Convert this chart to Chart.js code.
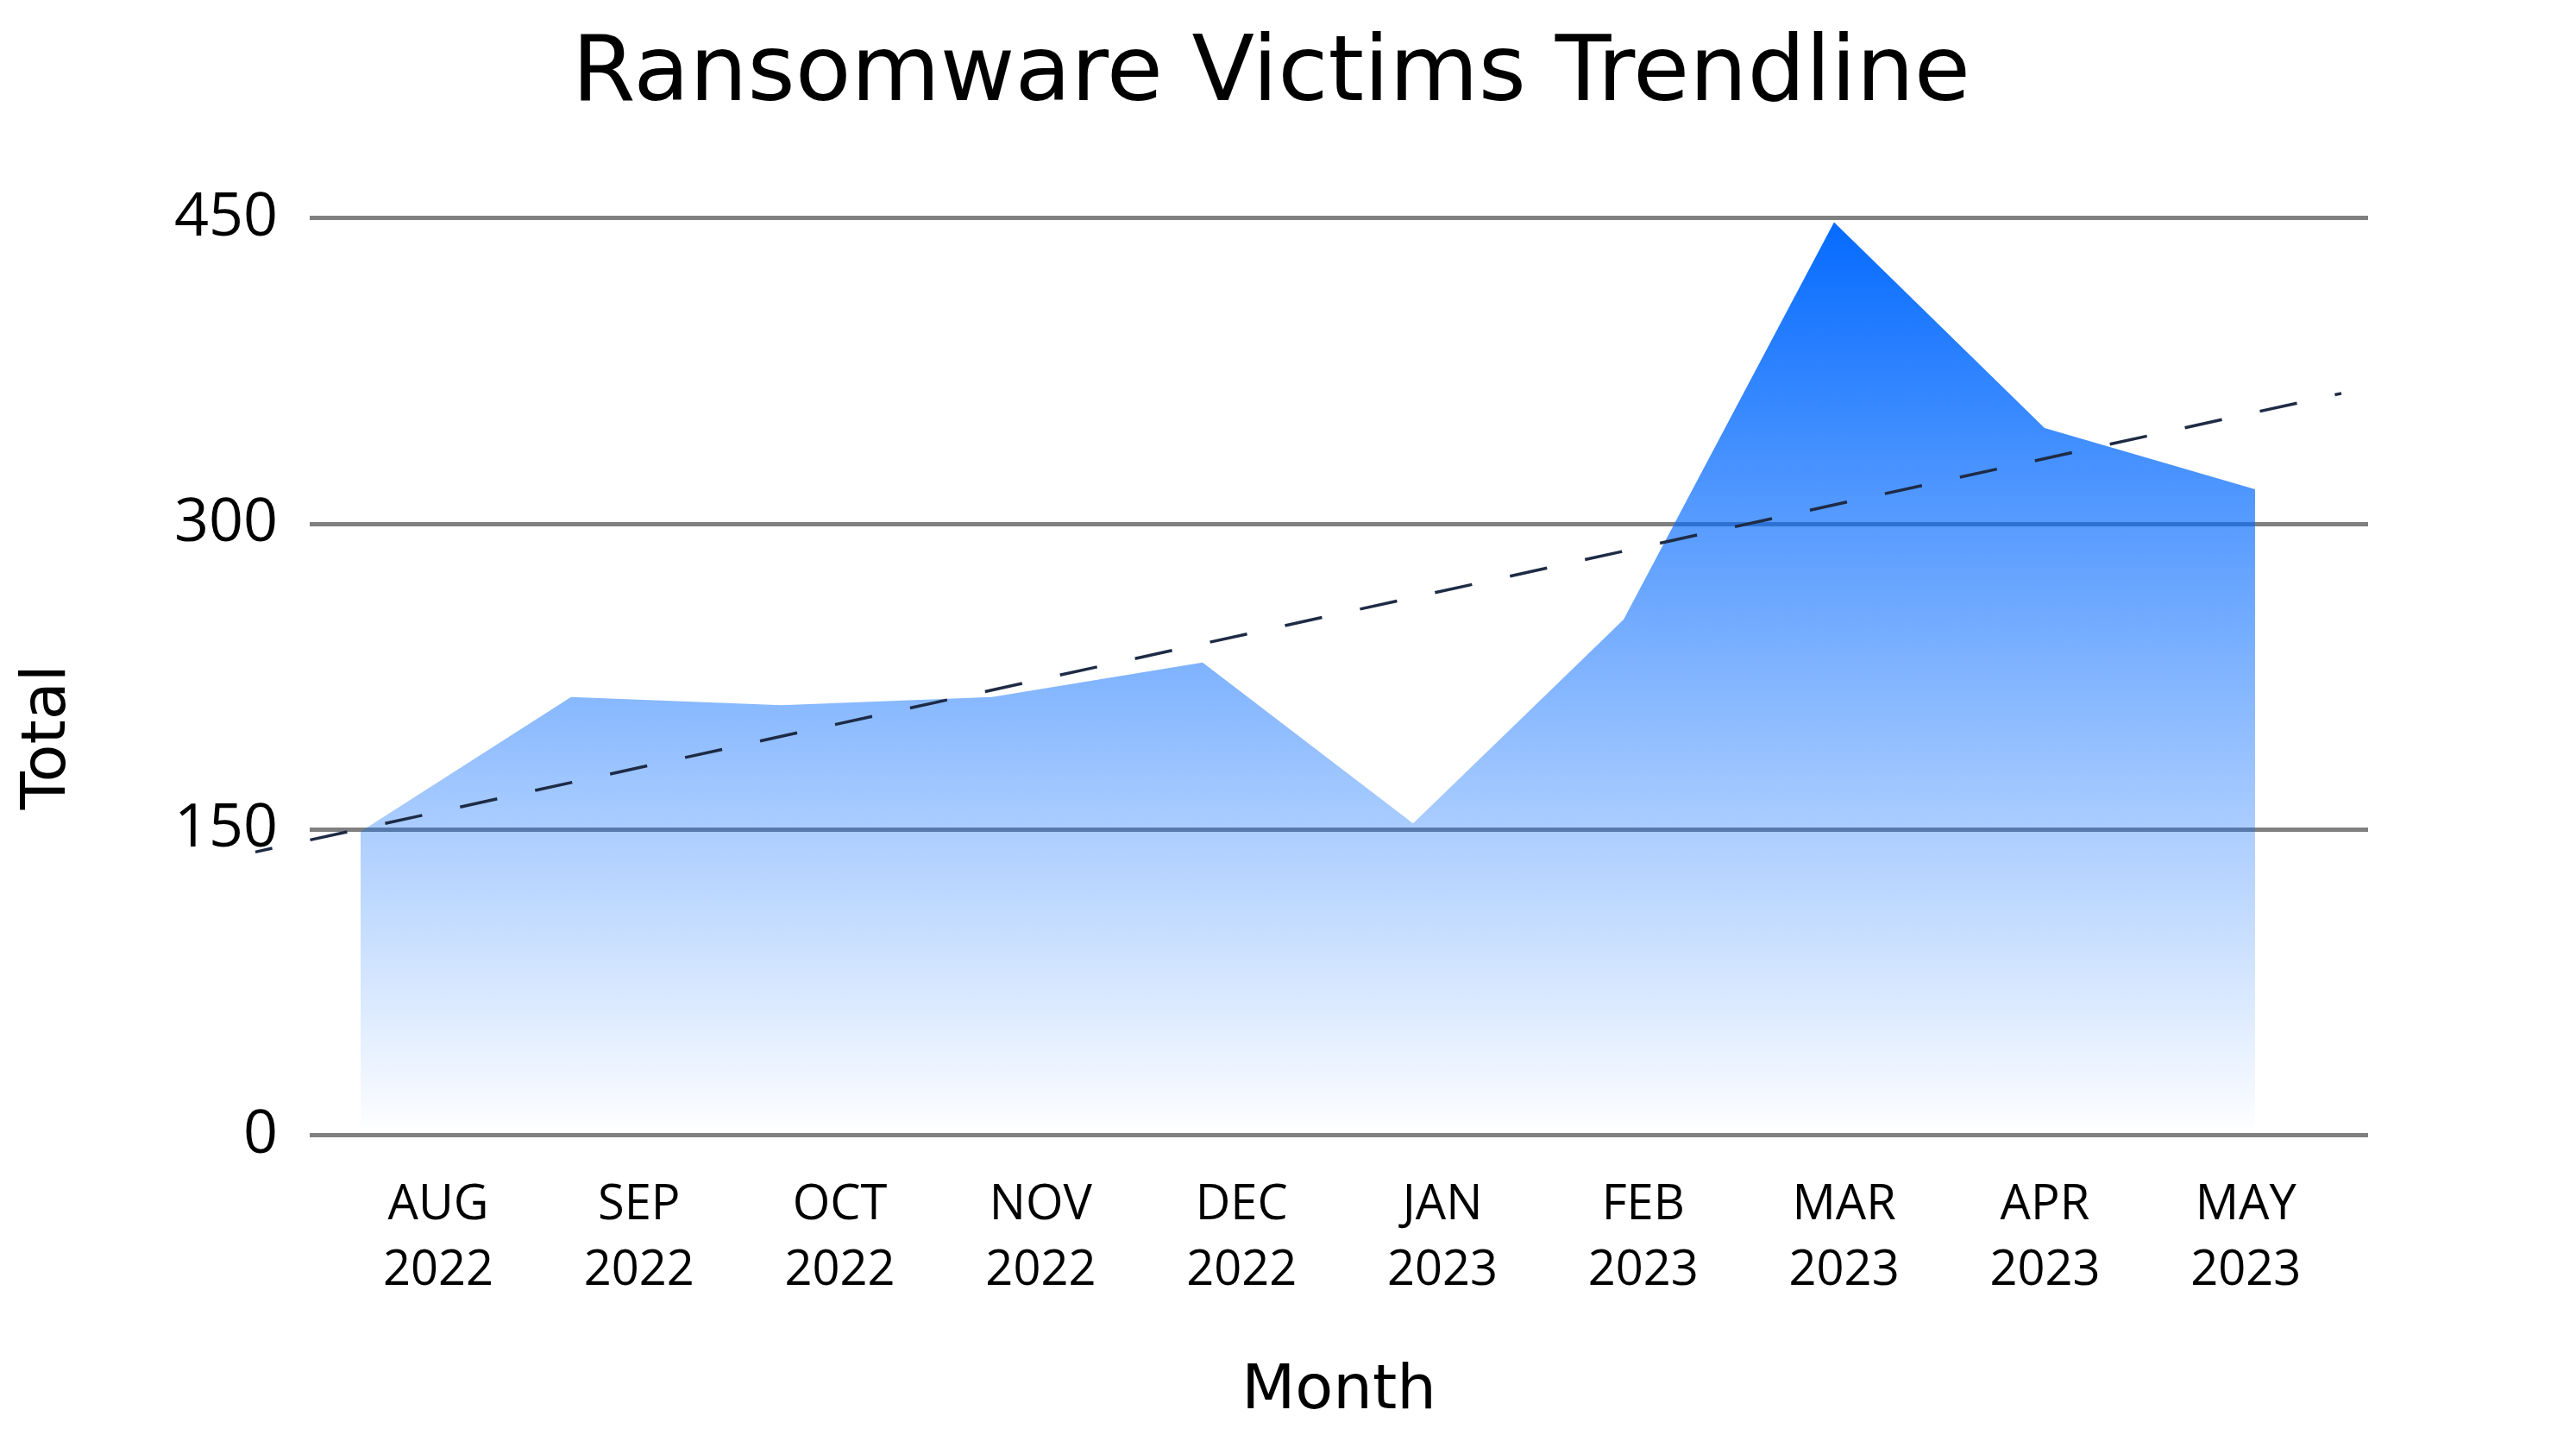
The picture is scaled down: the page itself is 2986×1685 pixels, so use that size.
<!DOCTYPE html>
<html>
<head>
<meta charset="utf-8">
<script src="https://cdn.jsdelivr.net/npm/chart.js@4.4.1/dist/chart.umd.min.js"></script>
<style>
  html, body { margin: 0; padding: 0; background: #ffffff; }
  #wrap { width: 2986px; height: 1685px; }
</style>
</head>
<body>
<div id="wrap"><canvas id="c" width="2986" height="1685"></canvas></div>
<script>
// ---- data ----
const months = ['AUG', 'SEP', 'OCT', 'NOV', 'DEC', 'JAN', 'FEB', 'MAR', 'APR', 'MAY'];
const years = ['2022', '2022', '2022', '2022', '2022', '2023', '2023', '2023', '2023', '2023'];
const victims = [149, 215, 211, 215, 232, 153, 253, 448, 347, 317];
// dashed trendline end points (x in month index units, y in victims)
const trendX = [-0.5, 9.41];
const trendY = [139, 364];
const yTickStep = 150;
const yMax = 450;
const yAxisTitle = 'Total';

const areaPoints = victims.map((v, i) => ({ x: i, y: v }));
const trendPoints = trendX.map((x, i) => ({ x: x, y: trendY[i] }));

function areaGradient(context) {
  const chart = context.chart;
  const area = chart.chartArea;
  if (!area) return 'rgba(4,106,255,0.5)';
  const g = chart.ctx.createLinearGradient(0, area.top, 0, area.bottom);
  g.addColorStop(0, 'rgba(4,106,255,1)');
  g.addColorStop(1, 'rgba(4,106,255,0)');
  return g;
}

// y-axis title, placed a little below the middle of the plot as in the reference
const yTitlePlugin = {
  id: 'yTitle',
  afterDraw(chart) {
    const { ctx, chartArea } = chart;
    const cy = (chartArea.top + chartArea.bottom) / 2 + 70;
    ctx.save();
    ctx.translate(56, cy);
    ctx.rotate(-Math.PI / 2);
    ctx.font = 'normal 72px "DejaVu Sans"';
    ctx.fillStyle = '#000000';
    ctx.textAlign = 'center';
    ctx.textBaseline = 'middle';
    ctx.fillText(yAxisTitle, 0, 0);
    ctx.restore();
  }
};

new Chart(document.getElementById('c'), {
  type: 'line',
  data: {
    datasets: [
      {
        label: 'Victims',
        data: areaPoints,
        xAxisID: 'x',
        yAxisID: 'y',
        fill: 'origin',
        backgroundColor: areaGradient,
        borderWidth: 0,
        borderColor: 'rgba(0,0,0,0)',
        pointRadius: 0,
        tension: 0,
        order: 2
      },
      {
        label: 'Trendline',
        data: trendPoints,
        xAxisID: 'x',
        yAxisID: 'y',
        fill: false,
        borderColor: '#1e2b45',
        borderWidth: 3.5,
        borderDash: [44, 45],
        borderDashOffset: 24,
        pointRadius: 0,
        tension: 0,
        clip: false,
        order: 1
      }
    ]
  },
  plugins: [yTitlePlugin],
  options: {
    responsive: false,
    animation: false,
    layout: { padding: { left: 0, right: 39, top: 0, bottom: 0 } },
    plugins: {
      legend: { display: false },
      tooltip: { enabled: false },
      title: {
        display: true,
        text: 'Ransomware Victims Trendline',
        color: '#000000',
        font: { family: 'DejaVu Sans', size: 106, weight: 'normal' },
        padding: { top: 25, bottom: 100.5 }
      }
    },
    scales: {
      x: {
        type: 'linear',
        display: false,
        min: -0.2418,
        max: 9.537
      },
      xl: {
        type: 'linear',
        position: 'bottom',
        min: -0.640,
        max: 9.609,
        grid: { display: false, drawTicks: false },
        border: { display: false },
        afterBuildTicks: (axis) => { axis.ticks = months.map((m, i) => ({ value: i })); },
        afterFit: (axis) => { axis.height = 369.3; },
        ticks: {
          autoSkip: false,
          maxRotation: 0,
          minRotation: 0,
          padding: 43,
          color: '#000000',
          font: { family: 'Open Sans', size: 56, lineHeight: 1.36 },
          callback: (value, index) => [months[index], years[index]]
        },
        title: {
          display: true,
          text: 'Month',
          color: '#000000',
          font: { family: 'DejaVu Sans', size: 72, weight: 'normal' },
          padding: { top: 29, bottom: 29 }
        }
      },
      y: {
        type: 'linear',
        position: 'left',
        min: 0,
        max: yMax,
        afterFit: (axis) => { axis.width = 359; },
        grid: { color: '#808080', lineWidth: 5, drawTicks: false },
        border: { display: false },
        ticks: {
          stepSize: yTickStep,
          padding: 37,
          color: '#000000',
          font: { family: 'Open Sans', size: 70 }
        },
        title: { display: false }
      },
      yR: {
        type: 'linear',
        position: 'right',
        min: 0,
        max: 1,
        grid: { display: false, drawTicks: false },
        border: { display: false },
        ticks: { display: false },
        afterFit: (axis) => { axis.width = 202; }
      }
    }
  }
});
</script>
</body>
</html>
